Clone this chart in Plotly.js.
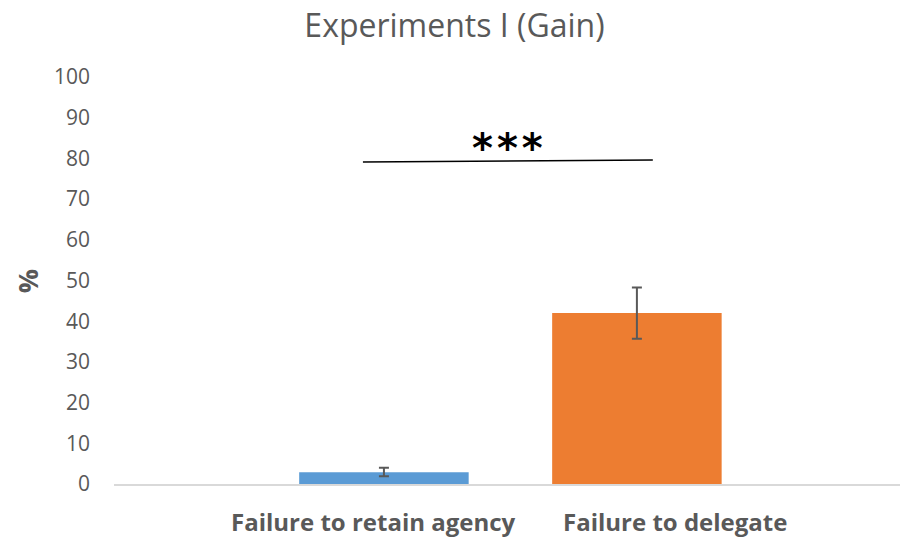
<!DOCTYPE html>
<html>
<head>
<meta charset="utf-8">
<script src="https://cdn.plot.ly/plotly-3.0.1.min.js"></script>
<style>html,body{margin:0;padding:0;background:#fff;}#chart{width:900px;height:541px;}</style>
</head>
<body>
<div id="chart"></div>
<script>
const categories = ["Failure to retain agency", "Failure to delegate"];
const values = [2.9, 42];
const errPlus = [1.1, 6.3];
const errMinus = [1.0, 6.3];
const barColors = ["#5b9bd5", "#ed7d31"];
const yTicks = [0, 10, 20, 30, 40, 50, 60, 70, 80, 90, 100];
const labelX = [-0.043, 1.15];
const yTitle = "%";
const sigLine = {x0: -0.083, y0: 79.1, x1: 1.063, y1: 79.6};
const sigText = "*\u200A*\u200A*";

const trace = {
  type: "bar",
  x: [0, 1],
  y: values,
  width: 0.67,
  marker: {color: barColors},
  error_y: {type: "data", symmetric: false, array: errPlus, arrayminus: errMinus, color: "#595959", thickness: 2, width: 5},
  hoverinfo: "none"
};

const catAnnots = categories.map((c, i) => ({
  xref: "x", yref: "paper", x: labelX[i], y: -0.091, text: c, showarrow: false,
  xanchor: "center", yanchor: "middle",
  font: {family: "Open Sans, sans-serif", size: 24, color: "#595959", weight: "bold"}
}));

const layout = {
  width: 900, height: 541,
  margin: {l: 114, r: 0, t: 77, b: 57},
  paper_bgcolor: "#fff", plot_bgcolor: "#fff",
  showlegend: false,
  title: {text: "Experiments I (Gain)", x: 0.505, xanchor: "center", y: 0.953, yanchor: "middle",
          font: {family: "Open Sans, sans-serif", size: 32, color: "#595959"}},
  xaxis: {
    range: [-1.067, 2.04],
    tickmode: "array", tickvals: [0, 1], ticktext: ["", ""],
    showline: true, linecolor: "#d9d9d9", linewidth: 2,
    ticks: "", showgrid: false, zeroline: false
  },
  yaxis: {
    range: [0, 100],
    tickmode: "array", tickvals: yTicks,
    tickfont: {family: "Open Sans, sans-serif", size: 21, color: "#595959"},
    showgrid: false, zeroline: false, showline: false, ticks: "",
    ticklabelstandoff: 23
  },
  shapes: [{type: "line", xref: "x", yref: "y", x0: sigLine.x0, y0: sigLine.y0, x1: sigLine.x1, y1: sigLine.y1,
            line: {color: "#000", width: 1.5}}],
  annotations: [
    {xref: "x", yref: "y", x: 0.49, y: 82.5, text: sigText, showarrow: false,
     font: {family: "DejaVu Sans, sans-serif", size: 40, color: "#000", weight: "bold"}, yanchor: "middle"},
    {xref: "paper", yref: "paper", x: -0.109, y: 0.499, text: yTitle, showarrow: false, textangle: -90,
     xanchor: "center", yanchor: "middle",
     font: {family: "Open Sans, sans-serif", size: 27, color: "#595959", weight: "bold"}}
  ].concat(catAnnots)
};

Plotly.newPlot("chart", [trace], layout, {displayModeBar: false, staticPlot: true});
</script>
</body>
</html>
